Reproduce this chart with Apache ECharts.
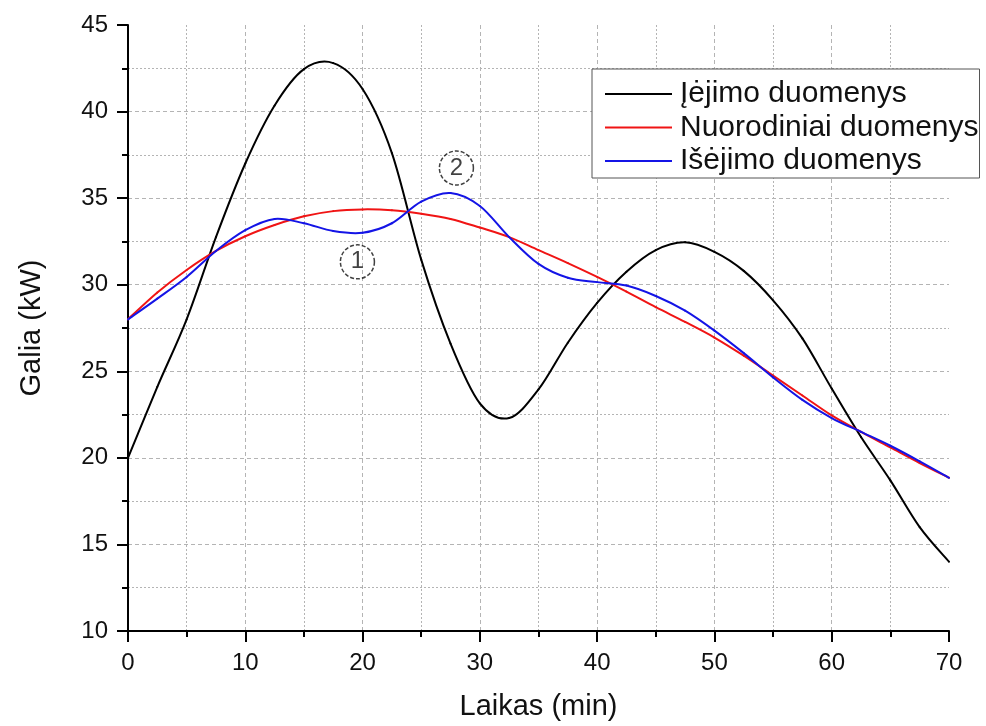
<!DOCTYPE html>
<html>
<head>
<meta charset="utf-8">
<script src="https://cdn.jsdelivr.net/npm/echarts@6/dist/echarts.min.js"></script>
<style>
  html, body { margin: 0; padding: 0; background: #fff; }
  #chart { width: 986px; height: 726px; }
</style>
</head>
<body>
<div id="chart"></div>
<script>
// Time grid (min)
const laikas = [0, 2.5, 5, 7.5, 10, 12.5, 15, 17.5, 20, 22.5, 25, 27.5, 30, 32.5, 35,
                37.5, 40, 42.5, 45, 47.5, 50, 52.5, 55, 57.5, 60, 62.5, 65, 67.5, 70];

// Power (kW) for each series
const ijimas = [20, 24.1, 28.0, 32.75, 37.0, 40.35, 42.45, 42.8, 41.3, 37.6, 31.45, 26.6, 23.15, 22.3, 23.95,
                26.65, 28.95, 30.75, 32.0, 32.45, 31.9, 30.8, 29.1, 26.9, 24.0, 21.2, 18.7, 16.0, 14.0];
const nuorodiniai = [28, 29.55, 30.85, 31.95, 32.8, 33.45, 33.95, 34.25, 34.35, 34.3, 34.1, 33.8, 33.3, 32.75, 32.0,
                     31.25, 30.45, 29.6, 28.7, 27.85, 26.95, 25.9, 24.75, 23.6, 22.45, 21.5, 20.6, 19.7, 18.85];
const isejimas = [28, 29.2, 30.45, 31.95, 33.15, 33.8, 33.55, 33.1, 33.0, 33.55, 34.8, 35.3, 34.55, 32.75, 31.2,
                  30.4, 30.15, 29.95, 29.35, 28.5, 27.35, 26.05, 24.65, 23.35, 22.3, 21.5, 20.7, 19.8, 18.85];

const seriesNames = ['Įėjimo duomenys', 'Nuorodiniai duomenys', 'Išėjimo duomenys'];
const seriesColors = ['#000000', '#f01414', '#1414e6'];

// Numbered callouts: [time, power, label]
const callouts = [[19.56, 31.32, '1'], [28.0, 36.74, '2']];

const xTicks = { min: 0, max: 70, interval: 10 };
const yTicks = { min: 10, max: 45, interval: 5 };

const FONT = 'Arial, "Liberation Sans", sans-serif';

function pairs(xs, ys) { return xs.map((x, i) => [x, ys[i]]); }

function axisCommon() {
  return {
    type: 'value',
    axisLine: { show: true, onZero: false, lineStyle: { color: '#000', width: 2 } },
    axisTick: { show: true, length: 11, lineStyle: { color: '#000', width: 2 } },
    minorTick: { show: true, splitNumber: 2, length: 6, lineStyle: { color: '#000', width: 2 } },
    splitLine: { show: true, showMinLine: false, showMaxLine: false,
                 lineStyle: { color: '#b4b4b4', width: 1, type: [4, 3] } },
    minorSplitLine: { show: true, lineStyle: { color: '#b4b4b4', width: 1, type: [2, 2] } },
    axisLabel: { color: '#111', fontSize: 24, fontFamily: FONT, margin: 20 },
    nameLocation: 'middle',
    nameTextStyle: { color: '#111', fontSize: 29, fontFamily: FONT }
  };
}

// Smooth curve through the points: Catmull-Rom segments as cubic Béziers,
// positioned through the cartesian coordinate system.
function drawSpline(points, color, api) {
  const pts = points.map(p => api.coord(p));
  const children = [];
  for (let i = 0; i < pts.length - 1; i++) {
    const p0 = pts[Math.max(i - 1, 0)];
    const p1 = pts[i];
    const p2 = pts[i + 1];
    const p3 = pts[Math.min(i + 2, pts.length - 1)];
    children.push({
      type: 'bezierCurve',
      shape: {
        x1: p1[0], y1: p1[1],
        cpx1: p1[0] + (p2[0] - p0[0]) / 6, cpy1: p1[1] + (p2[1] - p0[1]) / 6,
        cpx2: p2[0] - (p3[0] - p1[0]) / 6, cpy2: p2[1] - (p3[1] - p1[1]) / 6,
        x2: p2[0], y2: p2[1]
      },
      style: { stroke: color, lineWidth: 2, fill: null, lineCap: 'round' }
    });
  }
  return { type: 'group', children: children };
}

const chart = echarts.init(document.getElementById('chart'), null, { renderer: 'canvas' });

const curveSeries = [ijimas, nuorodiniai, isejimas].map((vals, i) => {
  const pts = pairs(laikas, vals);
  return {
    name: seriesNames[i],
    type: 'custom',
    data: pts,
    silent: true,
    itemStyle: { color: seriesColors[i] },
    renderItem: function (params, api) {
      // the whole curve is drawn once, from the first item
      if (params.dataIndex !== 0) return null;
      return drawSpline(pts, seriesColors[i], api);
    },
    z: 2 + i
  };
});

chart.setOption({
  animation: false,
  backgroundColor: '#fff',
  grid: { left: 128, right: 37, top: 25, bottom: 94 },
  xAxis: Object.assign(axisCommon(), {
    min: xTicks.min, max: xTicks.max, interval: xTicks.interval,
    name: 'Laikas (min)', nameGap: 61
  }),
  yAxis: Object.assign(axisCommon(), {
    min: yTicks.min, max: yTicks.max, interval: yTicks.interval,
    name: 'Galia (kW)', nameGap: 82
  }),
  legend: {
    data: seriesNames,
    orient: 'vertical',
    left: 592, top: 69,
    padding: [10, 1, 2, 13],
    itemGap: 3.5,
    itemWidth: 67,
    itemHeight: 2,
    icon: 'rect',
    backgroundColor: '#fff',
    borderColor: '#555',
    borderWidth: 1,
    borderRadius: 0,
    textStyle: { color: '#111', fontSize: 30, fontFamily: FONT, lineHeight: 30, padding: [0, 0, 0, 3] }
  },
  series: curveSeries.concat([{
    name: 'callouts',
    type: 'scatter',
    data: callouts,
    symbol: 'circle',
    symbolSize: 34,
    silent: true,
    itemStyle: { color: 'rgba(255,255,255,0)', borderColor: '#111', borderWidth: 1.5, borderType: [4, 2] },
    label: {
      show: true, position: 'inside',
      formatter: p => p.value[2],
      color: '#111', fontSize: 24, fontFamily: FONT
    },
    z: 6
  }])
});
</script>
</body>
</html>
